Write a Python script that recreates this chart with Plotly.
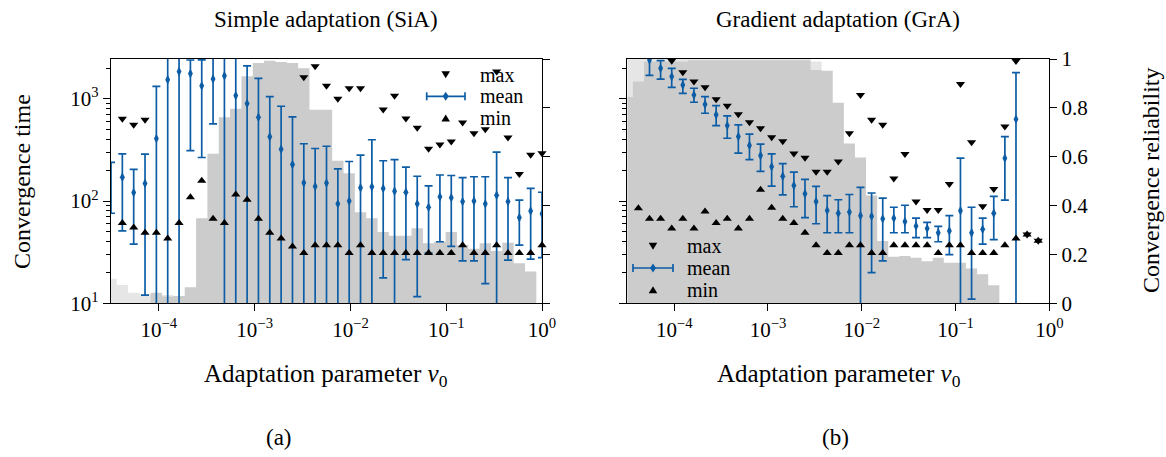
import plotly.graph_objects as go

# ---------------- data ----------------
nu = [3.162e-5, 4.153e-5, 5.456e-5, 7.166e-5, 9.412e-5, 1.236e-4, 1.624e-4, 2.133e-4,
      2.801e-4, 3.679e-4, 4.833e-4, 6.348e-4, 8.338e-4, 1.095e-3, 1.438e-3, 1.889e-3,
      2.482e-3, 3.259e-3, 4.281e-3, 5.623e-3, 7.386e-3, 9.702e-3, 1.274e-2, 1.674e-2,
      2.198e-2, 2.888e-2, 3.793e-2, 4.982e-2, 6.544e-2, 8.595e-2, 0.1129, 0.1483,
      0.1948, 0.2558, 0.3360, 0.4414, 0.5798, 0.7616, 1.0]

x_tickvals = [1e-4, 1e-3, 1e-2, 1e-1, 1]
x_ticktext = ["10<sup>−4</sup>", "10<sup>−3</sup>", "10<sup>−2</sup>", "10<sup>−1</sup>",
              "10<sup>0</sup>"]
y_tickvals = [10, 100, 1000]
y_ticktext = ["10<sup>1</sup>", "10<sup>2</sup>", "10<sup>3</sup>"]
y_minorvals = [20, 30, 40, 50, 60, 70, 80, 90, 200, 300, 400, 500, 600, 700, 800, 900, 2000]
rel_tickvals = [0, 0.2, 0.4, 0.6, 0.8, 1]
rel_ticktext = ["0", "0.2", "0.4", "0.6", "0.8", "1"]
legend_labels = ["max", "mean", "min"]

# Simple adaptation (SiA)
rel_any_sia = [0.10, 0.075, 0.043, 0.037, 0.037, 0.034, 0, 0, 0, 0, 0, 0, 0, 0, 0, 0, 0, 0, 0, 0,
               0, 0, 0, 0, 0, 0, 0, 0, 0, 0, 0, 0, 0, 0, 0, 0, 0, 0, 0]
rel_sia = [0, 0, 0, 0, 0.043, 0.028, 0.030, 0.066, 0.348, 0.612, 0.762, 0.796, 0.929, 0.984,
           0.993, 0.988, 0.984, 0.962, 0.792, 0.792, 0.584, 0.532, 0.373, 0.348, 0.292, 0.276,
           0.276, 0.307, 0.246, 0.252, 0.292, 0.239, 0.223, 0.246, 0.214, 0.248, 0.164, 0.130, 0]
max_sia = [505, 638, 557, 624, None, None, None, None, None, None, None, None, None, None,
           None, None, None, 1626, 2080, 1340, 1000, 1270, 1270, None, 787, 1070, 643, 521,
           325, 358, 383, 587, 461, 505, 1848, 419, 184, 284, 294]
mean_sia = [158, 171, 121, 149, 409, 1542, 1848, 1766, 1340, 1567, 1679, 1077, 900, 661, 426,
            322, 228, 151, 139, 150, 94, 100, 135, 138, 133, 125, 122, 94, 87, 110, 108, 99,
            100, 94, 114, 99, 69, 80, 75]
upper_sia = [239, 290, 204, 288, 1327, 5000, 5000, 2400, 2404, 5000, 5000, 5000, 2099, 1589,
             1053, 847, 667, 364, 327, 344, 207, 244, 281, 398, 248, 255, 215, 175, 141, 180,
             178, 170, 173, 173, 301, 170, 102, 133, 122]
lower_sia = [76, 51, 38, 12, 1, 1, 1, 312, 267, 570, 1, 1, 1, 1, 1, 1, 1, 1, 1, 1, 1, 1, 1, 1,
             17.7, 1, 26.8, 11.6, 31, 40, 36, 26, 26, 15.6, 1, 26.5, 37, 27, 28]
min_sia = [61, 61, 55, 49, 49, 43, 61, 109, 158, 67, 61, 116, 103, 67, 49, 43, 36, 31, 37, 37,
           37, 31, 37, 31, 31, 31, 31, 31, 31, 31, 31, 37, 31, 31, 37, 31, 31, 31, 37]

# Gradient adaptation (GrA)
rel_any_gra = [1.0, 1.0, 1.0, 1.0, 1.0, 1.0, 1.0, 1.0, 1.0, 1.0, 1.0, 1.0, 1.0, 1.0, 1.0, 1.0,
               1.0, 0.99, 0, 0, 0, 0, 0, 0, 0, 0, 0, 0, 0, 0, 0, 0, 0, 0, 0, 0, 0, 0, 0]
rel_gra = [0.844, 0.908, 0.99, 0.99, 0.99, 0.99, 0.995, 0.995, 0.995, 0.995, 0.995, 0.995,
           0.995, 0.995, 0.995, 0.995, 0.995, 0.955, 0.952, 0.821, 0.654, 0.597, 0.441, 0.255,
           0.191, 0.194, 0.186, 0.172, 0.186, 0.166, 0.166, 0.142, 0.119, 0.074, 0, 0, 0, 0, 0]
max_gra = [None, None, None, None, 2366, 1820, 1475, 1297, 991, 854, 708, 590, 516, 422, 385,
           292, 265, 194, 194, 244, 461, 1094, 624, 557, 166, 288, 99, 82, 82, 147, 1401, 377,
           89, 131, 536, 2350, 47, 41, None]
mean_gra = [None, None, 2404, 1991, 1652, 1370, 1094, 885, 698, 548, 428, 350, 279, 217, 175,
            142, 118, 99, 81, 76, 78, 72, 71, 67, 68, 63, 57, 54, 49, 51, 80.5, 49, 53, 76, 263,
            633, None, None, None]
upper_gra = [None, None, 5000, 2370, 1991, 1552, 1270, 1053, 860, 682, 557, 451, 360, 290, 232,
             192, 163, 139, 113, 103, 116, 136, 120, 107, 87, 91, 68, 62, 56.5, 72, 263, 87, 68,
             111, 428, 1807, None, None, None]
lower_gra = [None, None, 1700, 1560, 1297, 1134, 927, 723, 548, 412, 294, 254, 195, 140, 115,
             88, 69, 60, 49, 49, 49, 1, 20, 26, 49, 49, 44, 44, 40, 30, 1, 11, 38, 42, 102, 1,
             None, None, None]
min_gra = [91, 85, 67, 67, 54, 67, 54, 79, 61, 67, 54, 67, 129, 86, 67, 61, 49, 37, 31, 31, 37,
           37, 31, 31, 37, 37, 37, 37, 31, 37, 37, 31, 31, 31, 37, 43, 47, 41, None]

# ---------------- styling ----------------
BLUE = "#0C5DA5"
LIGHT = "#e6e6e6"
DARK = "#cccccc"
FONT = "Liberation Serif"
FS = 21
W, H = 1166, 457


def px_x(v):
    return v / W


def px_y(v):
    return 1 - v / H


fig = go.Figure()


def add_panel(xa, yrel, ylog, light, dark, mx, mean, up, lo, mn):
    fig.add_trace(go.Scatter(x=nu, y=light, xaxis=xa, yaxis=yrel, mode="lines",
                             line=dict(width=0, shape="hvh"), fill="tozeroy",
                             fillcolor=LIGHT, showlegend=False, hoverinfo="skip"))
    fig.add_trace(go.Scatter(x=nu, y=dark, xaxis=xa, yaxis=yrel, mode="lines",
                             line=dict(width=0, shape="hvh"), fill="tozeroy",
                             fillcolor=DARK, showlegend=False, hoverinfo="skip"))
    fig.add_trace(go.Scatter(x=nu, y=mx, xaxis=xa, yaxis=ylog, mode="markers", name="max",
                             marker=dict(symbol="triangle-down", size=8, color="black"),
                             cliponaxis=False, showlegend=False))
    plus = [(u - m) if m is not None else 0 for u, m in zip(up, mean)]
    minus = [(m - l) if m is not None else 0 for l, m in zip(lo, mean)]
    fig.add_trace(go.Scatter(x=nu, y=mean, xaxis=xa, yaxis=ylog, mode="markers", name="mean",
                             marker=dict(symbol="diamond-tall", size=7, color=BLUE),
                             error_y=dict(type="data", array=plus, arrayminus=minus,
                                          color=BLUE, thickness=1.7, width=4),
                             showlegend=False))
    fig.add_trace(go.Scatter(x=nu, y=mn, xaxis=xa, yaxis=ylog, mode="markers", name="min",
                             marker=dict(symbol="triangle-up", size=8, color="black"),
                             cliponaxis=False, showlegend=False))


add_panel("x", "y", "y2", rel_any_sia, rel_sia, max_sia, mean_sia, upper_sia, lower_sia, min_sia)
add_panel("x2", "y3", "y4", rel_any_gra, rel_gra, max_gra, mean_gra, upper_gra, lower_gra, min_gra)

ydom = [px_y(303.3), px_y(59.0)]
tfont = dict(family=FONT, size=FS, color="black")
common = dict(showline=True, linecolor="black", linewidth=1.2, ticks="outside",
              tickcolor="black", tickwidth=1.1, showgrid=False, zeroline=False,
              tickfont=tfont, ticklen=7)
xcommon = dict(common, type="log", range=[-4.5, 0], tickmode="array", tickvals=x_tickvals,
               ticktext=x_ticktext, mirror=True)
relcommon = dict(common, range=[0, 1], tickmode="array", tickvals=rel_tickvals,
                 ticktext=rel_ticktext, side="right")
logcommon = dict(common, type="log", range=[1, 3.39], tickmode="array", tickvals=y_tickvals,
                 ticktext=y_ticktext, side="left",
                 minor=dict(tickmode="array", tickvals=y_minorvals, ticks="outside", ticklen=4,
                            tickcolor="black", tickwidth=1, showgrid=False))

fig.update_layout(
    width=W, height=H,
    margin=dict(l=0, r=0, t=0, b=0, autoexpand=False),
    plot_bgcolor="white", paper_bgcolor="white",
    font=dict(family=FONT, size=FS, color="black"),
    showlegend=False,
    xaxis=dict(xcommon, domain=[px_x(111), px_x(542)], anchor="y"),
    yaxis=dict(relcommon, domain=ydom, anchor="x", showticklabels=False),
    yaxis2=dict(logcommon, overlaying="y", anchor="x"),
    xaxis2=dict(xcommon, domain=[px_x(627.3), px_x(1049.3)], anchor="y3"),
    yaxis3=dict(relcommon, domain=ydom, anchor="x2", showticklabels=True),
    yaxis4=dict(logcommon, overlaying="y3", anchor="x2", showticklabels=False),
)

# ---- text ----
ann = [
    ("Simple adaptation (SiA)", 326, 19, 0, 23),
    ("Gradient adaptation (GrA)", 838, 19, 0, 23),
    ("Convergence time", 22, 182, -90, 24),
    ("Convergence reliability", 1151, 181, -90, 24),
    ("Adaptation parameter <i>ν</i><sub>0</sub>", 326, 375, 0, 25),
    ("Adaptation parameter <i>ν</i><sub>0</sub>", 839, 375, 0, 25),
    ("(a)", 279, 437, 0, 23),
    ("(b)", 835, 437, 0, 23),
]
for text, ax, ay, ang, fs in ann:
    fig.add_annotation(text=text, x=px_x(ax), y=px_y(ay), xref="paper", yref="paper",
                       showarrow=False, textangle=ang, xanchor="center", yanchor="middle",
                       font=dict(family=FONT, size=fs, color="black"))


# ---- hand-drawn legends (glyph + label) ----
def path(pts):
    return "M " + " L ".join(f"{px_x(a):.5f},{px_y(b):.5f}" for a, b in pts) + " Z"


def legend_block(cx, ys, x0, x1, tx):
    s = 4.3
    # max: triangle down
    y = ys[0]
    fig.add_shape(type="path", xref="paper", yref="paper", line=dict(width=0),
                  fillcolor="black",
                  path=path([(cx - s, y - s * 0.8), (cx + s, y - s * 0.8), (cx, y + s * 0.8)]))
    # mean: errorbar glyph
    y = ys[1]
    fig.add_shape(type="line", xref="paper", yref="paper", x0=px_x(x0), x1=px_x(x1),
                  y0=px_y(y), y1=px_y(y), line=dict(color=BLUE, width=1.7))
    for xc in (x0, x1):
        fig.add_shape(type="line", xref="paper", yref="paper", x0=px_x(xc), x1=px_x(xc),
                      y0=px_y(y - 4), y1=px_y(y + 4), line=dict(color=BLUE, width=1.7))
    fig.add_shape(type="path", xref="paper", yref="paper", line=dict(width=0),
                  fillcolor=BLUE,
                  path=path([(cx, y - 4.5), (cx + 3, y), (cx, y + 4.5), (cx - 3, y)]))
    # min: triangle up
    y = ys[2]
    fig.add_shape(type="path", xref="paper", yref="paper", line=dict(width=0),
                  fillcolor="black",
                  path=path([(cx - s, y + s * 0.8), (cx + s, y + s * 0.8), (cx, y - s * 0.8)]))
    for lab, y in zip(legend_labels, ys):
        fig.add_annotation(text=lab, x=px_x(tx), y=px_y(y), xref="paper", yref="paper",
                           showarrow=False, xanchor="left", yanchor="middle",
                           font=dict(family=FONT, size=20, color="black"))


legend_block(445.7, [74.7, 96.3, 118.0], 426.7, 465.0, 478)
legend_block(653.0, [246.3, 268.0, 289.7], 633.0, 673.0, 685)

fig.write_html("out.html")
